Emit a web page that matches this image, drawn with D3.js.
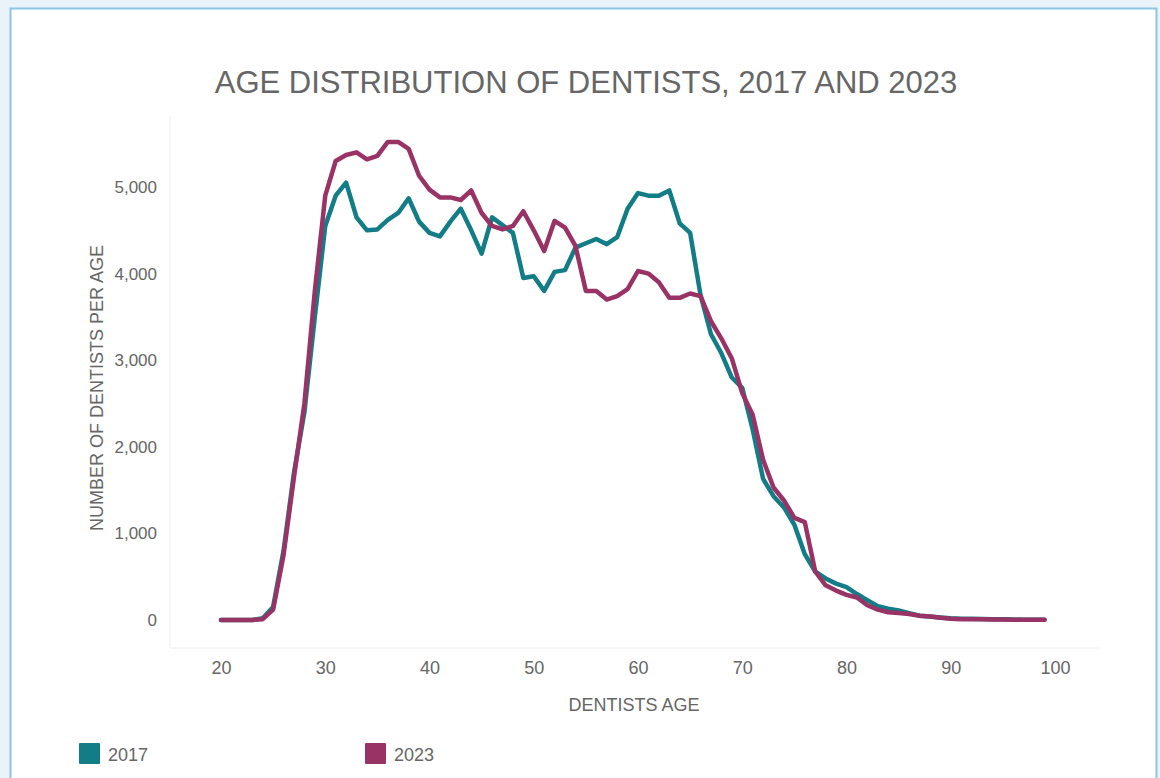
<!DOCTYPE html>
<html>
<head>
<meta charset="utf-8">
<script src="https://cdn.jsdelivr.net/npm/d3@7"></script>
<style>
  html, body { margin: 0; padding: 0; background: #eaf2fa; }
  body { width: 1160px; height: 778px; overflow: hidden; font-family: "Liberation Sans", Arial, sans-serif; }
  #chart { position: absolute; left: 0; top: 0; }
</style>
</head>
<body>
<div id="chart"></div>
<script>
const ages = d3.range(20, 100);
const series2017 = [
  0, 0, 0, 0, 20, 150, 800, 1700, 2400, 3500,
  4550, 4900, 5050, 4650, 4500, 4510, 4620, 4700, 4870, 4600,
  4470, 4430, 4600, 4750, 4500, 4230, 4650, 4560, 4470, 3950,
  3970, 3800, 4020, 4040, 4300, 4350, 4400, 4340, 4420, 4750,
  4930, 4900, 4900, 4960, 4580, 4470, 3750, 3300, 3080, 2800,
  2680, 2200, 1630, 1430, 1300, 1100, 760, 560, 480, 420,
  380, 300, 230, 160, 130, 110, 80, 50, 40, 30,
  20, 15, 15, 12, 10, 8, 5, 3, 2, 2
];
const series2023 = [
  0, 0, 0, 0, 10, 120, 750, 1650, 2500, 3800,
  4900, 5300, 5370, 5400, 5320, 5360, 5520, 5520, 5440, 5130,
  4970, 4880, 4880, 4850, 4960, 4700, 4550, 4510, 4550, 4720,
  4500, 4260, 4610, 4530, 4320, 3800, 3800, 3700, 3740, 3820,
  4030, 4000, 3900, 3720, 3720, 3770, 3740, 3450, 3250, 3020,
  2620, 2370, 1850, 1530, 1380, 1180, 1130, 560, 400, 340,
  290, 260, 170, 120, 90, 80, 70, 50, 40, 25,
  15, 10, 8, 8, 6, 5, 4, 3, 2, 2
];
const seriesNames = ["2017", "2023"];
const seriesColors = ["#127d86", "#993366"];
const xTicks = [20, 30, 40, 50, 60, 70, 80, 90, 100];
const yTicks = [0, 1000, 2000, 3000, 4000, 5000];

const W = 1160, H = 778;
const FONT = "Liberation Sans, Arial, sans-serif";
const svg = d3.select("#chart").append("svg")
  .attr("width", W).attr("height", H);

// white panel with blue border
svg.append("rect")
  .attr("x", 10.5).attr("y", 8.5)
  .attr("width", 1146).attr("height", 780)
  .attr("fill", "#fff")
  .attr("stroke", "#8cc3e6").attr("stroke-width", 2);

const x = d3.scaleLinear().domain([20, 100]).range([221, 1055]);
const y = d3.scaleLinear().domain([0, 5000]).range([620, 187]);

// faint plot frame
svg.append("line").attr("x1", 170).attr("x2", 170).attr("y1", 116).attr("y2", 648)
  .attr("stroke", "#eeeeee");
svg.append("line").attr("x1", 170).attr("x2", 1100).attr("y1", 648).attr("y2", 648)
  .attr("stroke", "#eeeeee");

svg.append("text")
  .attr("x", 586).attr("y", 93)
  .attr("text-anchor", "middle")
  .attr("font-size", 31)
  .attr("fill", "#666")
  .text("AGE DISTRIBUTION OF DENTISTS, 2017 AND 2023");

const yAxis = svg.append("g")
  .attr("transform", "translate(160,0)")
  .call(d3.axisLeft(y).tickValues(yTicks).tickSize(0).tickFormat(d3.format(",")));
yAxis.select(".domain").remove();
yAxis.selectAll("text").attr("font-size", 17).attr("fill", "#666")
  .attr("font-family", FONT);

const xAxis = svg.append("g")
  .attr("transform", "translate(0,658)")
  .call(d3.axisBottom(x).tickValues(xTicks).tickSize(0));
xAxis.select(".domain").remove();
xAxis.selectAll("text").attr("font-size", 18).attr("fill", "#666")
  .attr("font-family", FONT);

svg.append("text")
  .attr("x", 634).attr("y", 711)
  .attr("text-anchor", "middle")
  .attr("font-size", 18).attr("fill", "#666")
  .text("DENTISTS AGE");

svg.append("text")
  .attr("transform", "translate(103,388) rotate(-90)")
  .attr("text-anchor", "middle")
  .attr("font-size", 18).attr("fill", "#666")
  .text("NUMBER OF DENTISTS PER AGE");

const line = d3.line()
  .x((d, i) => x(ages[i]))
  .y(d => y(d));

[series2017, series2023].forEach((s, i) => {
  svg.append("path")
    .datum(s)
    .attr("d", line)
    .attr("fill", "none")
    .attr("stroke", seriesColors[i])
    .attr("stroke-width", 4.5)
    .attr("stroke-linejoin", "round")
    .attr("stroke-linecap", "round");
});

// legend
const legendX = [79, 365];
seriesNames.forEach((name, i) => {
  svg.append("rect")
    .attr("x", legendX[i]).attr("y", 743)
    .attr("width", 21).attr("height", 21).attr("rx", 1)
    .attr("fill", seriesColors[i]);
  svg.append("text")
    .attr("x", legendX[i] + 29).attr("y", 761)
    .attr("font-size", 18).attr("fill", "#666")
    .text(name);
});
</script>
</body>
</html>
